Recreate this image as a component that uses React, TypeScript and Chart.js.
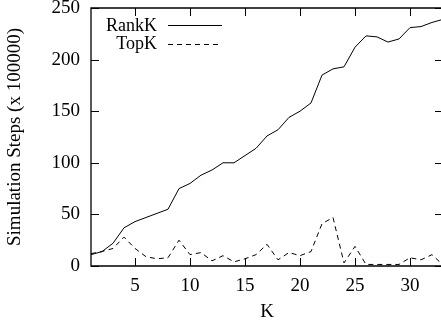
import { useEffect, useRef } from 'react';
import { Chart, registerables } from 'chart.js';

Chart.register(...registerables);

const kValues = [1, 2, 3, 4, 5, 6, 7, 8, 9, 10, 11, 12, 13, 14, 15, 16, 17, 18, 19, 20, 21, 22, 23, 24, 25, 26, 27, 28, 29, 30, 31, 32, 33];
const rankK = [11, 14, 22, 37, 43, 47, 51, 55, 75, 80, 88, 93, 100, 100, 107, 114, 126, 132, 144, 150, 158, 185, 191, 193, 212, 223, 222, 217, 220, 231, 232, 236, 239];
const topK = [12, 14, 17, 28, 17, 9, 7, 8, 25, 11, 13, 5, 10, 4, 7, 11, 21, 6, 13, 10, 14, 41, 47, 3, 19, 1.5, 1.5, 1.5, 1.5, 8, 6, 11, 1];
const xTickValues = [5, 10, 15, 20, 25, 30];
const yTickValues = [0, 50, 100, 150, 200, 250];
const seriesLabels = ['RankK', 'TopK'];
const xTitle = 'K';
const yTitle = 'Simulation Steps (x 100000)';

const FONT = "'Liberation Serif', 'DejaVu Serif', serif";

const framePlugin = {
  id: 'frame',
  afterDraw(chart: any) {
    const { ctx, chartArea, scales } = chart;
    const { left, right, top, bottom } = chartArea;
    const x = scales.x;
    const y = scales.y;
    ctx.save();
    ctx.strokeStyle = '#000';
    ctx.lineWidth = 1.3;
    ctx.setLineDash([]);
    ctx.beginPath();
    ctx.rect(left, top, right - left, bottom - top);
    ctx.stroke();
    ctx.lineWidth = 1;
    const tl = 8;
    ctx.beginPath();
    xTickValues.forEach((v) => {
      const px = Math.round(x.getPixelForValue(v)) + 0.5;
      ctx.moveTo(px, bottom);
      ctx.lineTo(px, bottom - tl);
      ctx.moveTo(px, top);
      ctx.lineTo(px, top + tl);
    });
    yTickValues.forEach((v) => {
      const py = Math.round(y.getPixelForValue(v)) + 0.5;
      ctx.moveTo(left, py);
      ctx.lineTo(left + tl, py);
      ctx.moveTo(right, py);
      ctx.lineTo(right - tl, py);
    });
    ctx.stroke();

    // legend
    const textRight = left + 66;
    const lineStart = left + 77;
    const lineEnd = left + 131;
    const rows = [top + 17, top + 35.5];
    ctx.font = `18px ${FONT}`;
    ctx.fillStyle = '#000';
    ctx.textAlign = 'right';
    ctx.textBaseline = 'middle';
    chart.data.datasets.forEach((ds: any, i: number) => {
      const ry = rows[i];
      ctx.fillText(ds.label, textRight, ry + 1);
      ctx.beginPath();
      ctx.lineWidth = ds.borderWidth;
      ctx.strokeStyle = ds.borderColor;
      ctx.setLineDash(ds.borderDash || []);
      ctx.moveTo(lineStart, Math.round(ry) + 0.5);
      ctx.lineTo(lineEnd, Math.round(ry) + 0.5);
      ctx.stroke();
    });
    ctx.restore();
  },
};

export default function App() {
  const ref = useRef<HTMLCanvasElement>(null);

  useEffect(() => {
    if (!ref.current) return;
    const chart = new Chart(ref.current, {
      type: 'line',
      data: {
        datasets: [
          {
            label: seriesLabels[0],
            data: kValues.map((k, i) => ({ x: k, y: rankK[i] })),
            borderColor: '#000',
            borderWidth: 1,
            pointRadius: 0,
            tension: 0,
            fill: false,
          },
          {
            label: seriesLabels[1],
            data: kValues.map((k, i) => ({ x: k, y: topK[i] })),
            borderColor: '#000',
            borderWidth: 1,
            borderDash: [5, 4],
            pointRadius: 0,
            tension: 0,
            fill: false,
          },
        ],
      },
      options: {
        responsive: false,
        animation: false,
        devicePixelRatio: 1,
        layout: { padding: { left: 0, top: 8, right: 17, bottom: 0 } },
        plugins: {
          legend: { display: false },
          tooltip: { enabled: false },
        },
        scales: {
          x: {
            type: 'linear',
            min: 1,
            max: 33,
            grid: { display: false, drawTicks: false },
            border: { display: false },
            ticks: {
              color: '#000',
              font: { family: FONT, size: 19 },
              padding: 9,
              maxRotation: 0,
              autoSkip: false,
            },
            title: {
              display: true,
              text: xTitle,
              color: '#000',
              font: { family: FONT, size: 19 },
              padding: { top: 0, bottom: 3 },
            },
            afterBuildTicks: (scale: any) => {
              scale.ticks = xTickValues.map((v) => ({ value: v }));
            },
            afterFit: (scale: any) => {
              scale.height = 60;
              scale.paddingLeft = 0;
              scale.paddingRight = 0;
            },
          },
          y: {
            type: 'linear',
            min: 0,
            max: 250,
            grid: { display: false, drawTicks: false },
            border: { display: false },
            ticks: {
              color: '#000',
              font: { family: FONT, size: 19 },
              padding: 11,
              autoSkip: false,
            },
            title: {
              display: true,
              text: yTitle,
              color: '#000',
              font: { family: FONT, size: 19 },
              padding: { top: 4, bottom: 0 },
            },
            afterBuildTicks: (scale: any) => {
              scale.ticks = yTickValues.map((v) => ({ value: v }));
            },
            afterFit: (scale: any) => {
              scale.width = 91;
              scale.paddingTop = 0;
              scale.paddingBottom = 0;
            },
          },
        },
      },
      plugins: [framePlugin],
    });
    return () => chart.destroy();
  }, []);

  return (
    <div
      style={{
        position: 'fixed',
        left: 0,
        top: 0,
        width: 441,
        height: 326,
        overflow: 'hidden',
        background: '#fff',
      }}
    >
      <canvas ref={ref} width={460} height={326} style={{ display: 'block', width: 460, height: 326 }} />
    </div>
  );
}
